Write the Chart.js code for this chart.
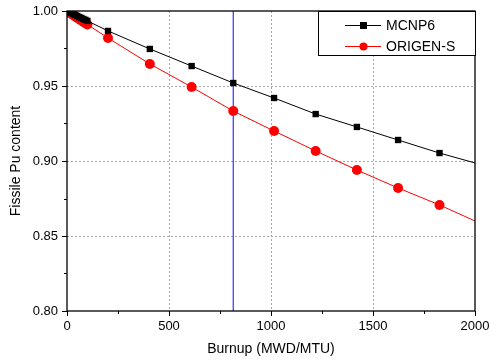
<!DOCTYPE html>
<html>
<head>
<meta charset="utf-8">
<script src="https://cdn.jsdelivr.net/npm/chart.js@4.4.0/dist/chart.umd.min.js"></script>
<style>
  html, body { margin: 0; padding: 0; background: #fff; }
  #wrap { width: 491px; height: 362px; }
</style>
</head>
<body>
<div id="wrap"><canvas id="chart"></canvas></div>
<script>
// burnup steps (MWD/MTU)
const burnup = [0, 10, 20, 30, 40, 50, 60, 70, 80, 90, 100, 201, 406, 611, 815, 1015, 1219, 1421, 1623, 1826, 2000];
// fissile Pu content, last value is the line end (no marker)
const mcnp6 = [1.000, 0.9993, 0.9987, 0.9980, 0.9974, 0.9967, 0.9960, 0.9954, 0.9947, 0.9941, 0.9934,
  0.9867, 0.9747, 0.9633, 0.9520, 0.9420, 0.9313, 0.9227, 0.9140, 0.9053, 0.8987];
const origen = [1.000, 0.9991, 0.9982, 0.9973, 0.9964, 0.9955, 0.9946, 0.9937, 0.9928, 0.9919, 0.9910,
  0.9820, 0.9647, 0.9493, 0.9333, 0.9200, 0.9067, 0.8940, 0.8820, 0.8707, 0.8600];
const markerLine = [815, 815];
const markerY = [0.80, 1.00];
const xTicks = [0, 500, 1000, 1500, 2000];
const yTicks = [0.80, 0.85, 0.90, 0.95, 1.00];

const toPoints = (xs, ys) => xs.map((x, i) => ({ x: x, y: ys[i] }));
const lastIdx = burnup.length - 1;

const FONT = "'Liberation Sans', Arial, sans-serif";

// dotted grid behind the data
const gridPlugin = {
  id: "dotgrid",
  beforeDatasetsDraw(chart) {
    const { ctx, chartArea: a, scales } = chart;
    ctx.save();
    ctx.strokeStyle = "#a8a8a8";
    ctx.lineWidth = 1;
    ctx.setLineDash([2, 2]);
    ctx.beginPath();
    xTicks.slice(1, -1).forEach(v => {
      const px = Math.round(scales.x.getPixelForValue(v)) + 0.5;
      ctx.moveTo(px, a.top);
      ctx.lineTo(px, a.bottom);
    });
    yTicks.slice(1, -1).forEach(v => {
      const py = Math.round(scales.y.getPixelForValue(v)) + 0.5;
      ctx.moveTo(a.left, py);
      ctx.lineTo(a.right, py);
    });
    ctx.stroke();
    ctx.restore();
  }
};

// frame, tick marks and legend box like the original plot
const framePlugin = {
  id: "frame",
  afterDraw(chart) {
    const { ctx, chartArea: a, scales } = chart;
    ctx.save();
    ctx.strokeStyle = "#000";
    ctx.lineWidth = 1.3;
    ctx.strokeRect(a.left, a.top, a.right - a.left, a.bottom - a.top);

    ctx.lineWidth = 1;
    ctx.beginPath();
    for (let v = 0; v <= 2000; v += 250) {
      const px = Math.round(scales.x.getPixelForValue(v)) + 0.5;
      const len = v % 500 === 0 ? 5 : 3;
      ctx.moveTo(px, a.bottom);
      ctx.lineTo(px, a.bottom + len);
    }
    for (let i = 0; i <= 8; i++) {
      const v = 0.8 + i * 0.025;
      const py = Math.round(scales.y.getPixelForValue(v)) + 0.5;
      const len = i % 2 === 0 ? 5 : 3;
      ctx.moveTo(a.left, py);
      ctx.lineTo(a.left - len, py);
    }
    ctx.stroke();

    // legend
    const bx = 318, by = a.top, bw = a.right - 318, bh = 44;
    ctx.fillStyle = "#fff";
    ctx.fillRect(bx, by, bw, bh);
    ctx.strokeStyle = "#000";
    ctx.lineWidth = 1;
    ctx.strokeRect(bx + 0.5, by + 0.5, bw, bh);
    const items = [
      { label: "MCNP6", color: "#000", style: "rect", y: by + 14 },
      { label: "ORIGEN-S", color: "#ff0000", style: "circle", y: by + 35 }
    ];
    ctx.font = "14px " + FONT;
    ctx.textBaseline = "middle";
    items.forEach(it => {
      ctx.strokeStyle = it.color;
      ctx.fillStyle = it.color;
      ctx.beginPath();
      ctx.moveTo(345, it.y + 0.5);
      ctx.lineTo(381, it.y + 0.5);
      ctx.stroke();
      if (it.style === "rect") {
        ctx.fillRect(360, it.y - 3, 7, 7);
      } else {
        ctx.beginPath();
        ctx.arc(363.5, it.y + 0.5, 4, 0, Math.PI * 2);
        ctx.fill();
      }
      ctx.fillStyle = "#000";
      ctx.fillText(it.label, 386, it.y + 1);
    });
    ctx.restore();
  }
};

new Chart(document.getElementById("chart"), {
  type: "line",
  data: {
    datasets: [
      {
        label: "MCNP6",
        data: toPoints(burnup, mcnp6),
        borderColor: "#000",
        backgroundColor: "#000",
        borderWidth: 1,
        pointStyle: "rect",
        pointRadius: c => (c.dataIndex === lastIdx ? 0 : 4.5),
        pointBorderWidth: 0,
        tension: 0
      },
      {
        label: "ORIGEN-S",
        data: toPoints(burnup, origen),
        borderColor: "#ff0000",
        backgroundColor: "#ff0000",
        borderWidth: 1,
        pointStyle: "circle",
        pointRadius: c => (c.dataIndex === lastIdx ? 0 : 5),
        pointBorderWidth: 0,
        tension: 0
      },
      {
        label: "marker",
        data: toPoints(markerLine, markerY),
        borderColor: "#3333ff",
        borderWidth: 1.2,
        pointRadius: 0
      }
    ]
  },
  options: {
    responsive: true,
    maintainAspectRatio: false,
    animation: false,
    layout: { padding: { top: 11, right: 16, left: 0, bottom: 0 } },
    plugins: { legend: { display: false }, tooltip: { enabled: false } },
    scales: {
      x: {
        type: "linear",
        min: 0,
        max: 2000,
        afterBuildTicks: s => { s.ticks = xTicks.map(v => ({ value: v })); },
        afterFit: s => { s.height = 51; s.paddingRight = 0; s.paddingLeft = 0; },
        grid: { display: false, drawTicks: false },
        border: { display: false },
        ticks: { color: "#000", font: { family: FONT, size: 13 }, padding: 8, maxRotation: 0, callback: v => String(v) },
        title: { display: true, text: "Burnup (MWD/MTU)", color: "#000", font: { family: FONT, size: 14 }, padding: { top: 0, bottom: 4 } }
      },
      y: {
        type: "linear",
        min: 0.80,
        max: 1.00,
        afterBuildTicks: s => { s.ticks = yTicks.map(v => ({ value: v })); },
        afterFit: s => { s.width = 67; s.paddingTop = 0; s.paddingBottom = 0; },
        grid: { display: false, drawTicks: false },
        border: { display: false },
        ticks: { color: "#000", font: { family: FONT, size: 13 }, padding: 9, callback: v => v.toFixed(2) },
        title: { display: true, text: "Fissile Pu content", color: "#000", font: { family: FONT, size: 14 }, padding: { top: 8, bottom: 0 } }
      }
    }
  },
  plugins: [gridPlugin, framePlugin]
});
</script>
</body>
</html>
